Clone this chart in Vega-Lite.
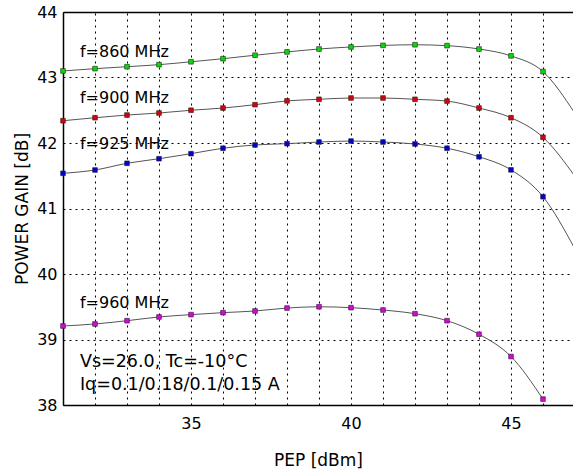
{
  "$schema": "https://vega.github.io/schema/vega-lite/v6.json",
  "autosize": {"type": "none"},
  "padding": {"left": 63, "top": 12, "right": 0, "bottom": 66},
  "width": 510,
  "height": 393,
  "background": "white",
  "config": {
    "view": {"stroke": null},
    "font": "DejaVu Sans"
  },
  "datasets": {
    "curves": [
      {"freq": "860", "pep": 31, "gain": 43.10, "kind": "meas"},
      {"freq": "860", "pep": 32, "gain": 43.135, "kind": "meas"},
      {"freq": "860", "pep": 33, "gain": 43.165, "kind": "meas"},
      {"freq": "860", "pep": 34, "gain": 43.196, "kind": "meas"},
      {"freq": "860", "pep": 35, "gain": 43.24, "kind": "meas"},
      {"freq": "860", "pep": 36, "gain": 43.287, "kind": "meas"},
      {"freq": "860", "pep": 37, "gain": 43.34, "kind": "meas"},
      {"freq": "860", "pep": 38, "gain": 43.39, "kind": "meas"},
      {"freq": "860", "pep": 39, "gain": 43.435, "kind": "meas"},
      {"freq": "860", "pep": 40, "gain": 43.466, "kind": "meas"},
      {"freq": "860", "pep": 41, "gain": 43.49, "kind": "meas"},
      {"freq": "860", "pep": 42, "gain": 43.50, "kind": "meas"},
      {"freq": "860", "pep": 43, "gain": 43.486, "kind": "meas"},
      {"freq": "860", "pep": 44, "gain": 43.435, "kind": "meas"},
      {"freq": "860", "pep": 45, "gain": 43.33, "kind": "meas"},
      {"freq": "860", "pep": 46, "gain": 43.09, "kind": "meas"},
      {"freq": "860", "pep": 47, "gain": 42.45, "kind": "fit"},
      {"freq": "900", "pep": 31, "gain": 42.34, "kind": "meas"},
      {"freq": "900", "pep": 32, "gain": 42.386, "kind": "meas"},
      {"freq": "900", "pep": 33, "gain": 42.427, "kind": "meas"},
      {"freq": "900", "pep": 34, "gain": 42.458, "kind": "meas"},
      {"freq": "900", "pep": 35, "gain": 42.50, "kind": "meas"},
      {"freq": "900", "pep": 36, "gain": 42.534, "kind": "meas"},
      {"freq": "900", "pep": 37, "gain": 42.585, "kind": "meas"},
      {"freq": "900", "pep": 38, "gain": 42.643, "kind": "meas"},
      {"freq": "900", "pep": 39, "gain": 42.667, "kind": "meas"},
      {"freq": "900", "pep": 40, "gain": 42.687, "kind": "meas"},
      {"freq": "900", "pep": 41, "gain": 42.687, "kind": "meas"},
      {"freq": "900", "pep": 42, "gain": 42.667, "kind": "meas"},
      {"freq": "900", "pep": 43, "gain": 42.64, "kind": "meas"},
      {"freq": "900", "pep": 44, "gain": 42.534, "kind": "meas"},
      {"freq": "900", "pep": 45, "gain": 42.386, "kind": "meas"},
      {"freq": "900", "pep": 46, "gain": 42.087, "kind": "meas"},
      {"freq": "900", "pep": 47, "gain": 41.49, "kind": "fit"},
      {"freq": "925", "pep": 31, "gain": 41.537, "kind": "meas"},
      {"freq": "925", "pep": 32, "gain": 41.588, "kind": "meas"},
      {"freq": "925", "pep": 33, "gain": 41.69, "kind": "meas"},
      {"freq": "925", "pep": 34, "gain": 41.76, "kind": "meas"},
      {"freq": "925", "pep": 35, "gain": 41.837, "kind": "meas"},
      {"freq": "925", "pep": 36, "gain": 41.92, "kind": "meas"},
      {"freq": "925", "pep": 37, "gain": 41.97, "kind": "meas"},
      {"freq": "925", "pep": 38, "gain": 41.99, "kind": "meas"},
      {"freq": "925", "pep": 39, "gain": 42.015, "kind": "meas"},
      {"freq": "925", "pep": 40, "gain": 42.03, "kind": "meas"},
      {"freq": "925", "pep": 41, "gain": 42.015, "kind": "meas"},
      {"freq": "925", "pep": 42, "gain": 41.985, "kind": "meas"},
      {"freq": "925", "pep": 43, "gain": 41.92, "kind": "meas"},
      {"freq": "925", "pep": 44, "gain": 41.79, "kind": "meas"},
      {"freq": "925", "pep": 45, "gain": 41.59, "kind": "meas"},
      {"freq": "925", "pep": 46, "gain": 41.18, "kind": "meas"},
      {"freq": "925", "pep": 47, "gain": 40.38, "kind": "fit"},
      {"freq": "960", "pep": 31, "gain": 39.206, "kind": "meas"},
      {"freq": "960", "pep": 32, "gain": 39.237, "kind": "meas"},
      {"freq": "960", "pep": 33, "gain": 39.287, "kind": "meas"},
      {"freq": "960", "pep": 34, "gain": 39.344, "kind": "meas"},
      {"freq": "960", "pep": 35, "gain": 39.38, "kind": "meas"},
      {"freq": "960", "pep": 36, "gain": 39.41, "kind": "meas"},
      {"freq": "960", "pep": 37, "gain": 39.435, "kind": "meas"},
      {"freq": "960", "pep": 38, "gain": 39.48, "kind": "meas"},
      {"freq": "960", "pep": 39, "gain": 39.50, "kind": "meas"},
      {"freq": "960", "pep": 40, "gain": 39.486, "kind": "meas"},
      {"freq": "960", "pep": 41, "gain": 39.45, "kind": "meas"},
      {"freq": "960", "pep": 42, "gain": 39.394, "kind": "meas"},
      {"freq": "960", "pep": 43, "gain": 39.287, "kind": "meas"},
      {"freq": "960", "pep": 44, "gain": 39.08, "kind": "meas"},
      {"freq": "960", "pep": 45, "gain": 38.74, "kind": "meas"},
      {"freq": "960", "pep": 46, "gain": 38.09, "kind": "meas"}
    ],
    "labels": [
      {"pep": 31.53, "gain": 43.394, "text": "f=860 MHz", "size": 16},
      {"pep": 31.53, "gain": 42.69, "text": "f=900 MHz", "size": 16},
      {"pep": 31.53, "gain": 41.985, "text": "f=925 MHz", "size": 16},
      {"pep": 31.53, "gain": 39.56, "text": "f=960 MHz", "size": 16},
      {"pep": 31.53, "gain": 38.66, "text": "Vs=26.0, Tc=-10°C", "size": 17.5},
      {"pep": 31.53, "gain": 38.30, "text": "Iq=0.1/0.18/0.1/0.15 A", "size": 17.5}
    ]
  },
  "resolve": {"axis": {"x": "independent"}},
  "layer": [
    {
      "data": {"name": "curves"},
      "mark": {"type": "line", "interpolate": "monotone", "color": "#555555", "strokeWidth": 1, "clip": true},
      "encoding": {
        "x": {
          "field": "pep", "type": "quantitative",
          "scale": {"domain": [31, 46.9375], "nice": false, "zero": false},
          "axis": {
            "orient": "bottom",
            "title": "PEP [dBm]",
            "values": [35, 40, 45],
            "labelOverlap": false,
            "grid": false,
            "ticks": false, "domainColor": "black", "domainWidth": 1.5,
            "labelFont": "DejaVu Sans", "labelFontSize": 16, "labelColor": "black", "labelPadding": 10,
            "titleFont": "DejaVu Sans", "titleFontSize": 17, "titleFontWeight": "normal", "titleColor": "black", "titlePadding": 21
          }
        },
        "y": {
          "field": "gain", "type": "quantitative",
          "scale": {"domain": [38, 44], "nice": false, "zero": false},
          "axis": {
            "title": "POWER GAIN [dB]",
            "values": [38, 39, 40, 41, 42, 43, 44],
            "format": "d",
            "labelOverlap": false,
            "grid": true, "gridColor": "black", "gridDash": [2, 4], "gridOpacity": 1, "gridWidth": 1,
            "ticks": false, "domainColor": "black", "domainWidth": 1.5,
            "labelFont": "DejaVu Sans", "labelFontSize": 16, "labelColor": "black", "labelPadding": 6,
            "titleFont": "DejaVu Sans", "titleFontSize": 17, "titleFontWeight": "normal", "titleColor": "black", "titlePadding": 5
          }
        },
        "detail": {"field": "freq"}
      }
    },
    {
      "data": {"name": "curves"},
      "transform": [{"filter": "datum.kind === 'meas'"}],
      "mark": {"type": "point", "shape": "square", "filled": true, "size": 22, "stroke": "#222222", "strokeWidth": 0.6, "opacity": 1},
      "encoding": {
        "x": {
          "field": "pep", "type": "quantitative",
          "axis": {
            "orient": "top",
            "title": null,
            "values": [31, 32, 33, 34, 35, 36, 37, 38, 39, 40, 41, 42, 43, 44, 45, 46],
            "labels": false,
            "ticks": false,
            "grid": true, "gridColor": "black", "gridDash": [2, 4], "gridOpacity": 1, "gridWidth": 1,
            "domainColor": "black", "domainWidth": 1.5
          }
        },
        "y": {"field": "gain", "type": "quantitative"},
        "fill": {
          "field": "freq", "type": "nominal",
          "scale": {"domain": ["860", "900", "925", "960"], "range": ["#00e000", "#e00000", "#0000e0", "#e000e0"]},
          "legend": null
        }
      }
    },
    {
      "data": {"name": "labels"},
      "mark": {"type": "text", "align": "left", "baseline": "middle", "font": "DejaVu Sans", "color": "black"},
      "encoding": {
        "x": {"field": "pep", "type": "quantitative", "axis": null},
        "y": {"field": "gain", "type": "quantitative"},
        "text": {"field": "text"},
        "size": {"field": "size", "type": "quantitative", "scale": null}
      }
    }
  ]
}
